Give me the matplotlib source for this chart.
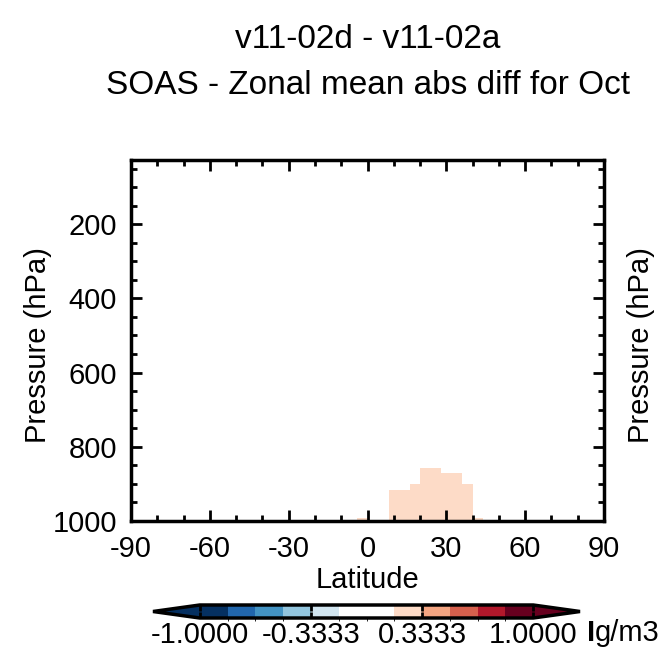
import numpy as np
import matplotlib
matplotlib.use("Agg")
import matplotlib.pyplot as plt
from matplotlib.colors import ListedColormap, BoundaryNorm

plt.rcParams['font.family'] = ['Liberation Sans', 'DejaVu Sans']
plt.rcParams['font.size'] = 21
plt.rcParams['axes.unicode_minus'] = False

# 4x5 style latitude edges and pressure edges (hPa)
lat_edges = np.concatenate(([-90], np.arange(-88, 89, 4), [90]))
p_edges = np.array([1013, 992, 916, 900, 871, 857, 10])

# top pressure of the non-zero region for each latitude band (lower edge, hPa)
band_lo = [-4, 8, 12, 16, 20, 24, 28, 32, 36, 40]
band_top = [992, 916, 916, 900, 857, 857, 871, 871, 900, 992]
band_val = [0.25, 0.25, 0.25, 0.25, 0.25, 0.25, 0.25, 0.25, 0.25, 0.25]

levels = np.linspace(-1, 1, 13)
colors = ['#053061', '#2166ac', '#4393c3', '#92c5de', '#d1e5f0', '#ffffff',
          '#ffffff', '#fddbc7', '#f4a582', '#d6604d', '#b2182b', '#67001f']
cmap = ListedColormap(colors)
cmap.set_under('#053061')
cmap.set_over('#67001f')
norm = BoundaryNorm(levels, cmap.N)

# build the zonal mean field
field = np.zeros((len(p_edges) - 1, len(lat_edges) - 1))
for lo, top, v in zip(band_lo, band_top, band_val):
    j = list(lat_edges).index(lo)
    for i in range(len(p_edges) - 1):
        if p_edges[i + 1] >= top:
            field[i, j] = v

fig = plt.figure(figsize=(6.65, 6.54), dpi=100)
ax = fig.add_axes([131 / 665, 1 - 521 / 654, 473 / 665, 361 / 654])
ax.pcolormesh(lat_edges, p_edges, field, cmap=cmap, norm=norm)
ax.set_xlim(-90, 90)
ax.set_ylim(1000, 27)
ax.set_xticks(np.arange(-90, 91, 30))
ax.set_xticks(np.arange(-90, 91, 10), minor=True)
ax.set_yticks([200, 400, 600, 800, 1000])
ax.set_yticks(np.arange(50, 1000, 50), minor=True)
ax.tick_params(which='both', direction='in', top=True, right=True, width=2, labelsize=21)
ax.tick_params(which='major', length=8, pad=10)
ax.tick_params(which='minor', length=4)
for s in ax.spines.values():
    s.set_linewidth(2.5)
ax.set_xlabel('Latitude', fontsize=21, labelpad=2)
fig.text(38 / 665, 1 - 345 / 654, 'Pressure (hPa)', rotation=90, ha='center', va='center', fontsize=21)
fig.text(641 / 665, 1 - 345 / 654, 'Pressure (hPa)', rotation=90, ha='center', va='center', fontsize=21)

fig.text(368 / 665, 1 - 40 / 654, 'v11-02d - v11-02a', ha='center', va='center', fontsize=24)
fig.text(368 / 665, 1 - 85 / 654, 'SOAS - Zonal mean abs diff for Oct', ha='center', va='center', fontsize=24)

cax = fig.add_axes([153 / 665, 1 - 618 / 654, 427 / 665, 13 / 654])
sm = plt.cm.ScalarMappable(cmap=cmap, norm=norm)
cb = fig.colorbar(sm, cax=cax, orientation='horizontal', extend='both',
                  extendfrac=0.14, ticks=[-1, -1 / 3, 1 / 3, 1], drawedges=False)
cb.ax.set_xticklabels(['-1.0000', '-0.3333', '0.3333', '1.0000'])
cb.ax.tick_params(direction='in', length=4, width=2, top=True, labelsize=21, pad=2)
cb.outline.set_linewidth(2.5)
fig.text(587 / 665, 1 - 633 / 654, 'I', ha='left', va='center', fontsize=21, fontweight='bold')
fig.text(595 / 665, 1 - 633 / 654, 'g/m3', ha='left', va='center', fontsize=21)

fig.savefig('out.png', dpi=100)
